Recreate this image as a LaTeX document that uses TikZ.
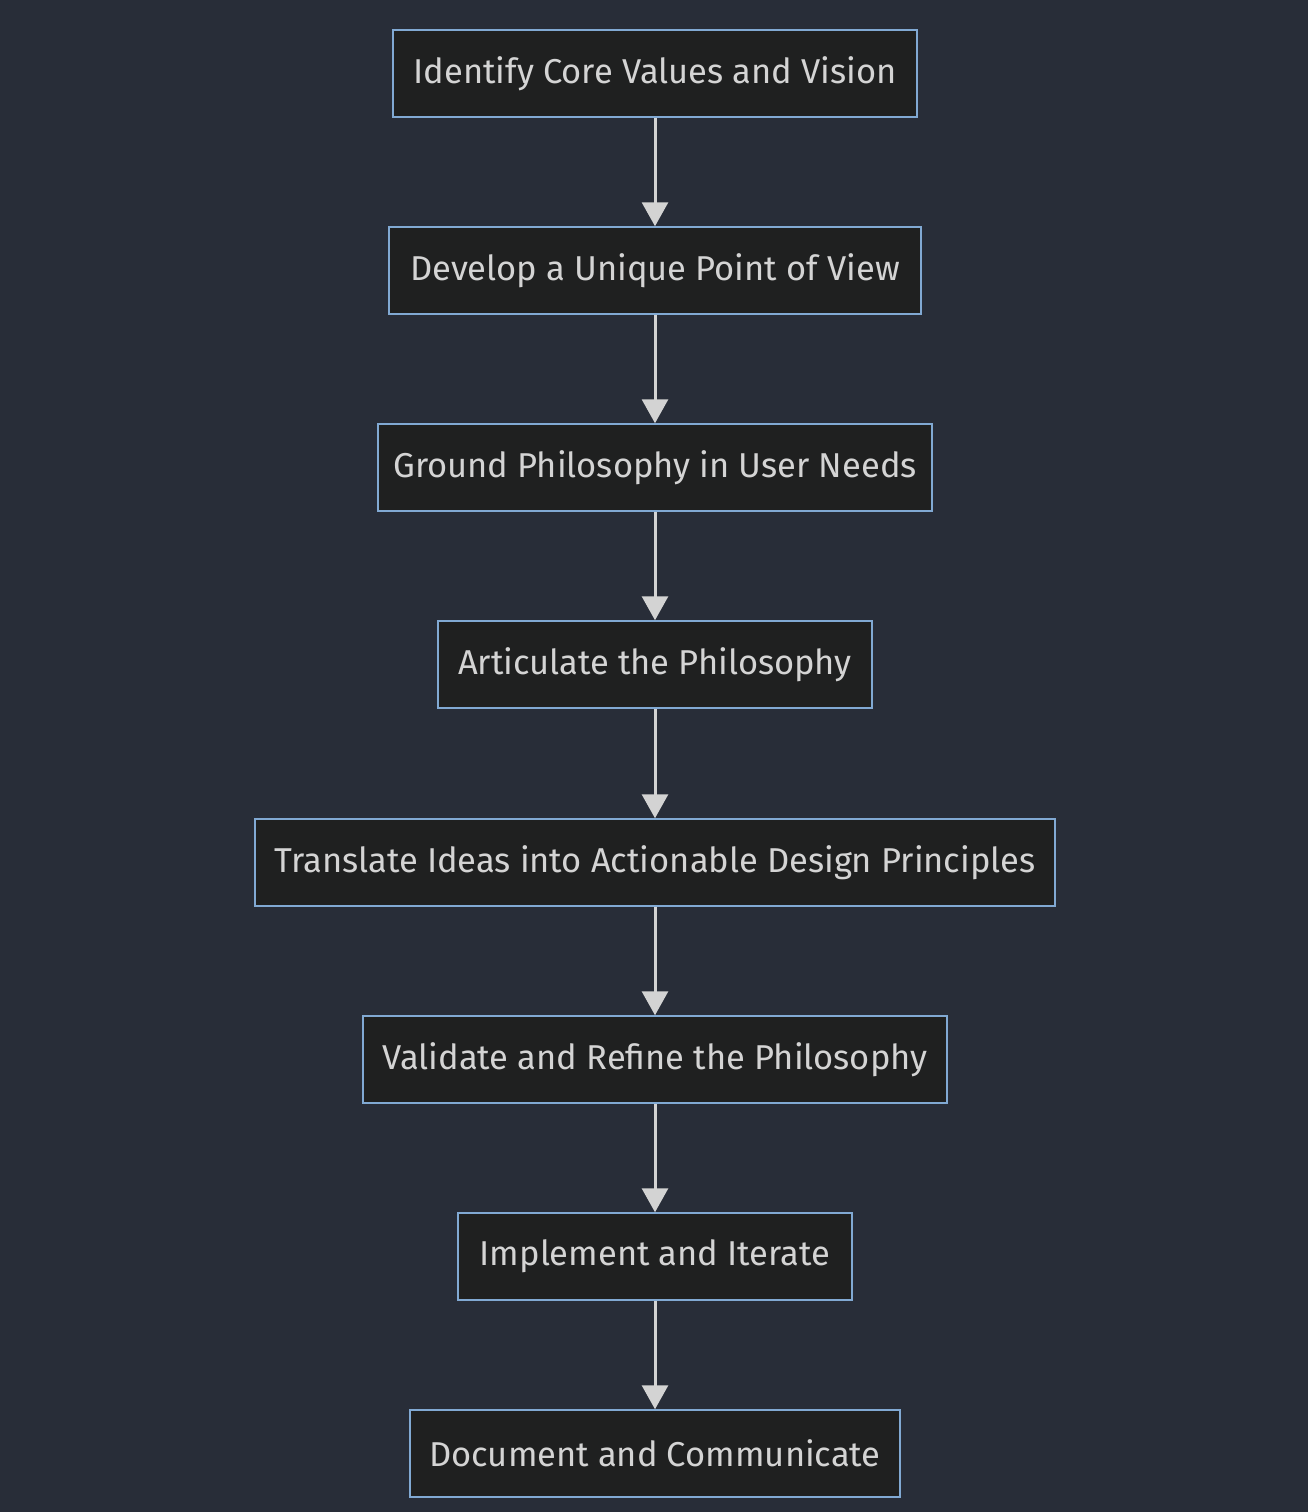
\documentclass[tikz,border=0pt]{standalone}
\usepackage{fontspec}
\setmainfont{Fira Sans}
\usetikzlibrary{arrows.meta}
\definecolor{bg}{HTML}{282D38}
\definecolor{boxfill}{HTML}{1F2020}
\definecolor{boxline}{HTML}{81A9D3}
\definecolor{txt}{HTML}{D4D4D4}
\definecolor{arr}{HTML}{D3D3D3}
\begin{document}
\begin{tikzpicture}[x=1pt,y=-1pt,
  box/.style={draw=boxline,fill=boxfill,line width=1.5pt,text=txt,minimum height=87pt,inner sep=0pt,font=\fontsize{34.5}{40}\selectfont},
  link/.style={draw=arr,line width=3pt,-{Triangle[length=24pt,width=26pt]}}]
\fill[bg] (0,0) rectangle (1308,1512);
\useasboundingbox (0,0) rectangle (1308,1512);
\node[box,minimum width=524pt] (a) at (655,73.5) {\raisebox{-1pt}{Identify Core Values and Vision}};
\node[box,minimum width=532pt] (b) at (655,270.5) {\raisebox{-1pt}{Develop a Unique Point of View}};
\node[box,minimum width=554pt] (c) at (655,467.5) {\raisebox{-1pt}{Ground Philosophy in User Needs}};
\node[box,minimum width=434pt] (d) at (655,664.5) {\raisebox{-1pt}{Articulate the Philosophy}};
\node[box,minimum width=800pt] (e) at (655,862.5) {\raisebox{-1pt}{Translate Ideas into Actionable Design Principles}};
\node[box,minimum width=584pt] (f) at (655,1059.5) {\raisebox{-1pt}{Validate and Refine the Philosophy}};
\node[box,minimum width=394pt] (g) at (655,1256.5) {\raisebox{-1pt}{Implement and Iterate}};
\node[box,minimum width=490pt] (h) at (655,1453.5) {\raisebox{-1pt}{Document and Communicate}};
\foreach \u/\v in {a/b,b/c,c/d,d/e,e/f,f/g,g/h}
  \draw[link] (\u.south) -- (\v.north);
\end{tikzpicture}
\end{document}
